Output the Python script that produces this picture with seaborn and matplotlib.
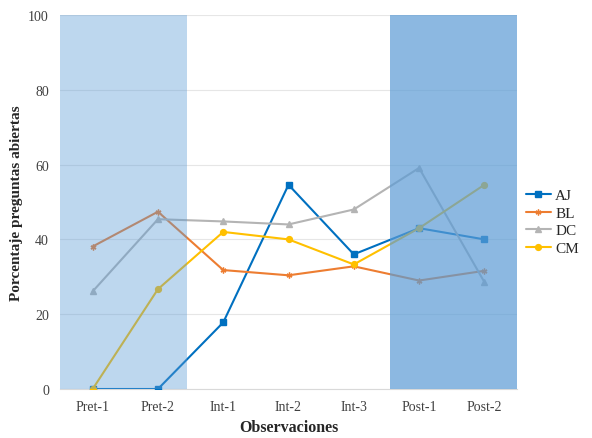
import matplotlib
matplotlib.use("Agg")
import matplotlib.pyplot as plt
import seaborn as sns
import pandas as pd
import numpy as np

observaciones = ["Pret-1", "Pret-2", "Int-1", "Int-2", "Int-3", "Post-1", "Post-2"]
aj = [0, 0, 17.8, 54.6, 36.0, 43.0, 40.0]
bl = [38.1, 47.4, 31.8, 30.4, 32.8, 29.0, 31.6]
dc = [26.1, 45.4, 44.8, 44.0, 48.0, 59.1, 28.6]
cm = [0, 26.7, 42.0, 40.0, 33.3, 43.0, 54.6]
series = {"AJ": aj, "BL": bl, "DC": dc, "CM": cm}

rows = []
for name, vals in series.items():
    for i, v in enumerate(vals):
        rows.append({"pos": i, "obs": observaciones[i], "serie": name, "valor": v})
df = pd.DataFrame(rows)

sns.set_style("white")
plt.rcParams['font.family'] = ['Liberation Serif', 'DejaVu Serif']

palette = {"AJ": "#0070C0", "BL": "#ED7D31", "DC": "#B4B4B4", "CM": "#FFC000"}
asterisk = (6, 2, 0)
markers = {"AJ": "s", "BL": asterisk, "DC": "^", "CM": "o"}

fig = plt.figure(figsize=(5.92, 4.39), dpi=100)
ax = fig.add_axes([0.1014, 0.1116, 0.7719, 0.852])

for name in series:
    sub = df[df["serie"] == name]
    sns.lineplot(data=sub, x="pos", y="valor", color=palette[name],
                 marker=markers[name], linewidth=1.5, markersize=4.2,
                 markeredgewidth=1, markeredgecolor=palette[name],
                 ax=ax, label=name, zorder=3)

ax.axvspan(-0.5, 1.44, color="#5B9BD5", alpha=0.40, lw=0, zorder=4)
ax.axvspan(4.55, 6.5, color="#5B9BD5", alpha=0.70, lw=0, zorder=4)

ax.set_xlim(-0.5, 6.5)
ax.set_ylim(0, 100)
ax.set_xticks(range(len(observaciones)))
ax.set_xticklabels(observaciones)
ax.set_yticks([0, 20, 40, 60, 80, 100])
ax.yaxis.grid(True, color="#E6E6E6", lw=0.8, zorder=0)
ax.set_axisbelow(True)
for s in ["left", "right", "top"]:
    ax.spines[s].set_visible(False)
ax.spines["bottom"].set_color("#D9D9D9")
ax.tick_params(axis="both", length=0, labelsize=10, colors="#404040", pad=8)

ax.set_xlabel("Observaciones", fontsize=11.5, fontweight="bold", labelpad=4)
ax.set_ylabel("Porcentaje preguntas abiertas", fontsize=11, fontweight="bold", labelpad=4)

handles, labels = ax.get_legend_handles_labels()
leg = ax.legend(handles, labels, loc="center left", bbox_to_anchor=(0.99, 0.447),
                frameon=False, fontsize=11, handlelength=1.6, handletextpad=0.3,
                labelspacing=0.25)

fig.savefig("out.png", dpi=100)
